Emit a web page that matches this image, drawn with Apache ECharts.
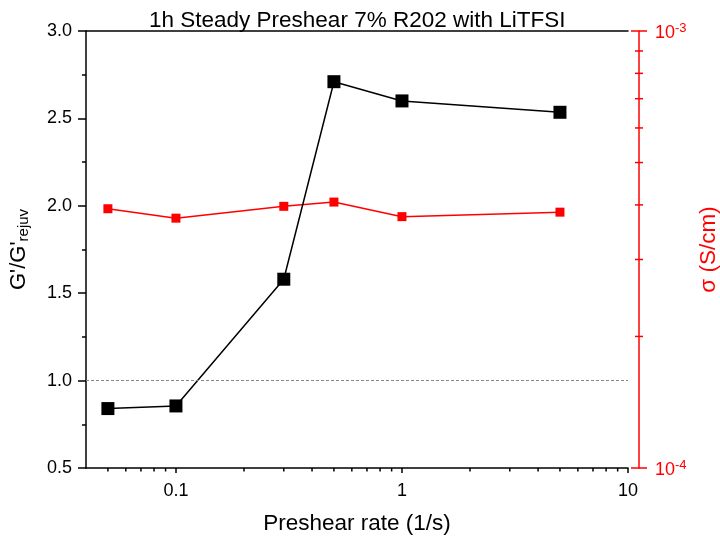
<!DOCTYPE html>
<html>
<head>
<meta charset="utf-8">
<script src="https://cdn.jsdelivr.net/npm/echarts@6/dist/echarts.min.js"></script>
<style>html,body{margin:0;padding:0;background:#fff;}#c{width:720px;height:543px;}</style>
</head>
<body>
<div id="c"></div>
<script>
// ---- data ----
const titleText = '1h Steady Preshear 7% R202 with LiTFSI';
const xName = 'Preshear rate (1/s)';
const rates = [0.05, 0.1, 0.3, 0.5, 1, 5];
const gRatio = [0.84, 0.855, 1.58, 2.71, 2.60, 2.535];
const sigma = [3.92e-4, 3.73e-4, 3.97e-4, 4.06e-4, 3.76e-4, 3.85e-4];
const xRange = [0.04, 10];
const yLeftRange = [0.5, 3.0];
const yRightRange = [1e-4, 1e-3];
const xMinorTicks = [0.05,0.06,0.07,0.08,0.09,0.2,0.3,0.4,0.5,0.6,0.7,0.8,0.9,2,3,4,5,6,7,8,9];
const rMajorTicks = [1e-4, 1e-3];
const rMinorTicks = [2e-4,3e-4,4e-4,5e-4,6e-4,7e-4,8e-4,9e-4];
const refLine = 1.0;

const FONT = '"Liberation Sans", Arial, sans-serif';
const G = {left: 86, right: 92, top: 31, bottom: 75};
const R_OFFSET = 11;
const RED = '#ff0000';

const chart = echarts.init(document.getElementById('c'), null, {renderer: 'canvas'});
const isPow10 = v => Math.abs(Math.log10(v) - Math.round(Math.log10(v))) < 1e-6;

const option = {
  animation: false,
  backgroundColor: '#fff',
  textStyle: {fontFamily: FONT},
  title: {
    text: titleText, left: 144, top: 4, padding: 5,
    textStyle: {fontFamily: FONT, fontSize: 22.5, fontWeight: 'normal', color: '#000'}
  },
  grid: {left: G.left, right: G.right, top: G.top, bottom: G.bottom, containLabel: false,
    outerBoundsMode: 'none'},
  xAxis: [{
    type: 'log', logBase: 10, min: xRange[0], max: xRange[1], position: 'bottom',
    name: xName, nameLocation: 'middle', nameGap: 44,
    nameTextStyle: {fontFamily: FONT, fontSize: 22.5, color: '#000'},
    axisLine: {show: true, lineStyle: {color: '#000', width: 1.5}},
    axisTick: {show: true, length: 5, lineStyle: {color: '#000', width: 1.5},
      interval: 0},
    axisLabel: {fontFamily: FONT, fontSize: 18, color: '#000', margin: 14,
      showMinLabel: false,
      formatter: v => isPow10(v) ? String(+v.toPrecision(6)) : ''},
    splitLine: {show: false}
  }, {
    type: 'log', logBase: 10, min: xRange[0], max: xRange[1], position: 'top',
    axisLine: {show: true, lineStyle: {color: '#000', width: 1.5}},
    axisTick: {show: false}, axisLabel: {show: false}, splitLine: {show: false}
  }],
  yAxis: [{
    type: 'value', min: yLeftRange[0], max: yLeftRange[1], interval: 0.5, position: 'left',
    name: "{g|G'/G'}{s|rejuv}", nameLocation: 'middle', nameGap: 55, nameRotate: 90,
    nameTextStyle: {fontFamily: FONT, color: '#000',
      rich: {g: {fontSize: 22, fontFamily: FONT, color: '#000'},
             s: {fontSize: 15, fontFamily: FONT, color: '#000', padding: [9, 0, 0, 0]}}},
    axisLine: {show: true, lineStyle: {color: '#000', width: 1.5}},
    axisTick: {show: true, length: 8, lineStyle: {color: '#000', width: 1.5}},
    minorTick: {show: true, splitNumber: 2, length: 4, lineStyle: {color: '#000', width: 1.5}},
    axisLabel: {fontFamily: FONT, fontSize: 18, color: '#000', margin: 14,
      formatter: v => v.toFixed(1)},
    splitLine: {show: false}
  }, {
    type: 'log', logBase: 10, min: yRightRange[0], max: yRightRange[1], position: 'right',
    offset: R_OFFSET,
    name: 'σ (S/cm)', nameLocation: 'middle', nameGap: 56, nameRotate: 90,
    nameTextStyle: {fontFamily: FONT, fontSize: 22.5, color: RED},
    axisLine: {show: true, lineStyle: {color: RED, width: 1.5}},
    axisTick: {show: false},
    axisLabel: {color: RED, margin: 16, padding: [5, 0, 0, 0],
      formatter: v => '{b|10}{s|' + Math.round(Math.log10(v)) + '}',
      rich: {b: {fontSize: 18, fontFamily: FONT, color: RED},
             s: {fontSize: 13, fontFamily: FONT, color: RED, padding: [0, 0, 10, 0]}}},
    splitLine: {show: false}
  }],
  series: [{
    name: 'sigma', type: 'line', xAxisIndex: 0, yAxisIndex: 1,
    data: rates.map((x, i) => [x, sigma[i]]),
    symbol: 'rect', symbolSize: 9,
    itemStyle: {color: RED}, lineStyle: {color: RED, width: 1.5}, z: 2
  }, {
    name: 'G', type: 'line', xAxisIndex: 0, yAxisIndex: 0,
    data: rates.map((x, i) => [x, gRatio[i]]),
    symbol: 'rect', symbolSize: 13,
    itemStyle: {color: '#000'}, lineStyle: {color: '#000', width: 1.5}, z: 3,
    markLine: {
      silent: true, symbol: 'none', label: {show: false},
      lineStyle: {color: '#888', type: [3, 2], width: 1},
      data: [{yAxis: refLine}]
    }
  }]
};
chart.setOption(option);

// extra ticks (minor log ticks on x, crossing ticks on the right red axis), positioned via the axis scales
function addTicks() {
  const els = [];
  const yBottom = 543 - G.bottom;
  xMinorTicks.forEach(v => {
    const px = chart.convertToPixel({xAxisIndex: 0}, v);
    els.push({type: 'line', shape: {x1: px, y1: yBottom, x2: px, y2: yBottom + 3.5},
      style: {stroke: '#000', lineWidth: 1.5}, silent: true});
  });
  const ax = 720 - G.right + R_OFFSET;
  rMajorTicks.forEach(v => {
    const py = chart.convertToPixel({yAxisIndex: 1}, v);
    els.push({type: 'line', shape: {x1: ax - 8, y1: py, x2: ax + 8, y2: py},
      style: {stroke: RED, lineWidth: 1.5}, silent: true});
  });
  rMinorTicks.forEach(v => {
    const py = chart.convertToPixel({yAxisIndex: 1}, v);
    els.push({type: 'line', shape: {x1: ax - 4, y1: py, x2: ax + 4, y2: py},
      style: {stroke: RED, lineWidth: 1.5}, silent: true});
  });
  chart.setOption({graphic: els});
}
addTicks();
</script>
</body>
</html>
